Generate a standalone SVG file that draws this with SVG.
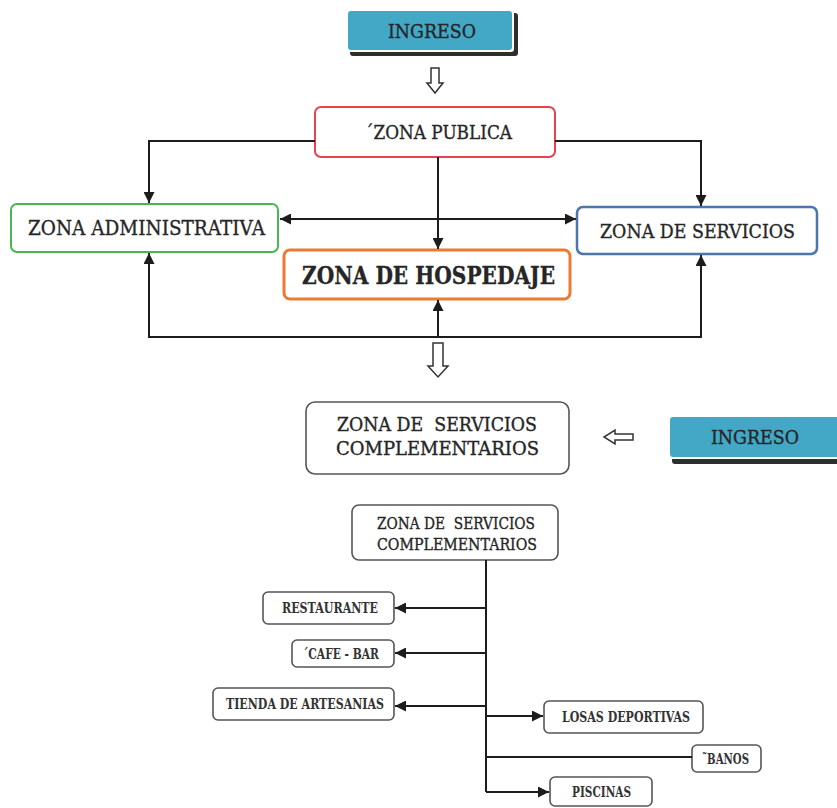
<svg xmlns="http://www.w3.org/2000/svg" width="837" height="808" viewBox="0 0 837 808">
<defs>
<style>
.t{font-family:"DejaVu Serif","Liberation Serif",serif;fill:#262626;white-space:pre;stroke:#262626;stroke-width:0.35;}
.box{fill:#fff;}
.ln{fill:none;stroke:#1c1c1c;stroke-width:2;}
.hollow{fill:#fff;stroke:#333;stroke-width:1.5;stroke-linejoin:miter;}
.sm{font-size:14px;font-weight:bold;fill:#333;stroke:none;}
.gbox{fill:#fff;stroke:#555;stroke-width:1.6;}
</style>
<marker id="ah" viewBox="0 0 10 10" refX="10" refY="5" markerWidth="11" markerHeight="11" markerUnits="userSpaceOnUse" orient="auto-start-reverse">
<path d="M0,0 L10,5 L0,10 z" fill="#1c1c1c"/>
</marker>
</defs>
<rect width="837" height="808" fill="#fff"/>

<g id="ingreso1">
<rect x="350" y="13" width="168" height="43" rx="3" fill="#2e2e2e"/>
<rect x="346" y="9" width="168" height="43" rx="3" fill="#fff"/>
<rect x="348" y="11" width="164" height="39" rx="3" fill="#42a8c6"/>
<text class="t" x="388" y="38" font-size="18" textLength="88" lengthAdjust="spacingAndGlyphs">INGRESO</text>
</g>

<polygon class="hollow" points="431,68 439,68 439,83 443,83 435,93 427,83 431,83"/>

<g id="zona-publica">
<rect class="box" x="315" y="107" width="240" height="50" rx="6" stroke="#e8414f" stroke-width="2"/>
<text class="t" x="365" y="139" font-size="19" textLength="147" lengthAdjust="spacingAndGlyphs">´ZONA PUBLICA</text>
</g>

<g id="zona-administrativa">
<rect class="box" x="11" y="204" width="267" height="48" rx="6" stroke="#45b853" stroke-width="2"/>
<text class="t" x="28" y="235" font-size="20" textLength="237" lengthAdjust="spacingAndGlyphs">ZONA ADMINISTRATIVA</text>
</g>

<g id="zona-hospedaje">
<rect class="box" x="284" y="250" width="286" height="49" rx="6" stroke="#ec7a32" stroke-width="3"/>
<text class="t" x="302" y="284" font-size="24" font-weight="bold" fill="#1a1a1a" textLength="253" lengthAdjust="spacingAndGlyphs">ZONA DE HOSPEDAJE</text>
</g>

<g id="zona-servicios">
<rect class="box" x="577" y="207" width="240" height="47" rx="6" stroke="#4a76aa" stroke-width="2.5"/>
<text class="t" x="600" y="238" font-size="19" textLength="195" lengthAdjust="spacingAndGlyphs">ZONA DE SERVICIOS</text>
</g>

<g id="connectors-top">
<path class="ln" d="M315,141 H149 V203" marker-end="url(#ah)"/>
<path class="ln" d="M555,141 H701 V206" marker-end="url(#ah)"/>
<path class="ln" d="M280,219 H576" marker-start="url(#ah)" marker-end="url(#ah)"/>
<path class="ln" d="M438,157 V249" marker-end="url(#ah)"/>
<path class="ln" d="M149,337 H701" stroke="#3a3a3a"/>
<path class="ln" d="M149,338 V253" marker-end="url(#ah)"/>
<path class="ln" d="M701,338 V255" marker-end="url(#ah)"/>
<path class="ln" d="M438,338 V300" marker-end="url(#ah)"/>
</g>

<polygon class="hollow" points="433,343 443,343 443,366 448,366 438,377 428,366 433,366"/>

<g id="complementarios-1">
<rect class="gbox" x="306" y="402" width="263" height="72" rx="9" stroke="#444" stroke-width="1.8"/>
<text class="t" x="337" y="431" font-size="18" textLength="200" lengthAdjust="spacingAndGlyphs">ZONA DE  SERVICIOS</text>
<text class="t" x="336" y="455" font-size="18" textLength="203" lengthAdjust="spacingAndGlyphs">COMPLEMENTARIOS</text>
</g>

<polygon class="hollow" points="633,434 615,434 615,430 604,437 615,444 615,440 633,440"/>

<g id="ingreso2">
<rect x="672" y="420" width="170" height="44" rx="3" fill="#2e2e2e"/>
<rect x="668" y="415" width="172" height="44" rx="3" fill="#fff"/>
<rect x="670" y="417" width="170" height="40" rx="3" fill="#42a8c6"/>
<text class="t" x="711" y="444" font-size="18" textLength="88" lengthAdjust="spacingAndGlyphs">INGRESO</text>
</g>

<g id="complementarios-2">
<rect class="gbox" x="352" y="505" width="206" height="55" rx="7"/>
<text class="t" x="377" y="529" font-size="16" textLength="158" lengthAdjust="spacingAndGlyphs" stroke-width="0.5">ZONA DE  SERVICIOS</text>
<text class="t" x="377" y="550" font-size="16" textLength="160" lengthAdjust="spacingAndGlyphs" stroke-width="0.5">COMPLEMENTARIOS</text>
</g>

<g id="restaurante">
<rect class="gbox" x="263" y="592" width="131" height="32" rx="5"/>
<text class="t sm" x="282" y="613" textLength="96" lengthAdjust="spacingAndGlyphs">RESTAURANTE</text>
</g>

<g id="cafe-bar">
<rect class="gbox" x="292" y="640" width="102" height="27" rx="5"/>
<text class="t sm" x="303" y="659" textLength="76" lengthAdjust="spacingAndGlyphs">´CAFE - BAR</text>
</g>

<g id="tienda">
<rect class="gbox" x="213" y="688" width="181" height="32" rx="5"/>
<text class="t sm" x="226" y="709" textLength="158" lengthAdjust="spacingAndGlyphs">TIENDA DE ARTESANIAS</text>
</g>

<g id="losas">
<rect class="gbox" x="544" y="701" width="159" height="32" rx="5"/>
<text class="t sm" x="562" y="722" textLength="128" lengthAdjust="spacingAndGlyphs">LOSAS DEPORTIVAS</text>
</g>

<g id="banos">
<rect class="gbox" x="692" y="745" width="69" height="27" rx="5"/>
<text class="t sm" x="702" y="764" textLength="47" lengthAdjust="spacingAndGlyphs">˜BANOS</text>
</g>

<g id="piscinas">
<rect class="gbox" x="550" y="777" width="102" height="29" rx="5"/>
<text class="t sm" x="572" y="797" textLength="59" lengthAdjust="spacingAndGlyphs">PISCINAS</text>
</g>

<g id="connectors-bottom">
<path class="ln" d="M486,560 V792"/>
<path class="ln" d="M486,608 H395" marker-end="url(#ah)"/>
<path class="ln" d="M486,653 H395" marker-end="url(#ah)"/>
<path class="ln" d="M486,706 H395" marker-end="url(#ah)"/>
<path class="ln" d="M486,716 H543" marker-end="url(#ah)"/>
<path class="ln" d="M486,757 H692" stroke-width="1.6"/>
<path class="ln" d="M486,792 H549" marker-end="url(#ah)"/>
</g>
</svg>
